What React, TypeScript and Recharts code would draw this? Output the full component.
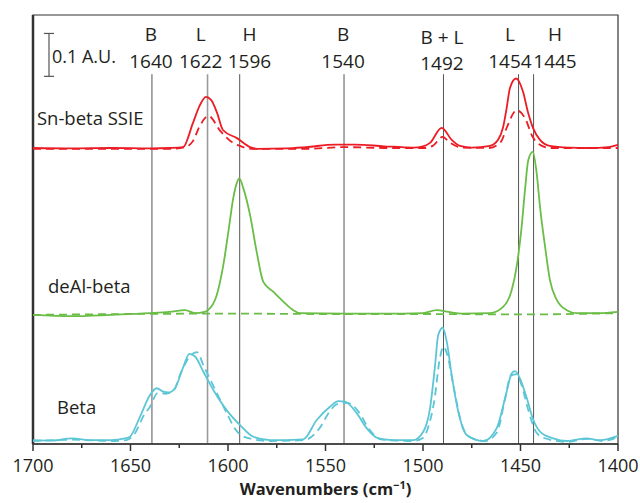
import {
  LineChart,
  Line,
  XAxis,
  YAxis,
  ReferenceLine,
  ReferenceArea,
  ReferenceDot,
  Label,
} from "recharts";

// spectra: [wavenumber, absorbance incl. stacking offset]
const snSolid = [
  [1700, 0.69], [1680, 0.689], [1660, 0.69], [1640, 0.689], [1630, 0.69],
  [1623, 0.692], [1618, 0.748], [1614.4, 0.79], [1611.3, 0.809], [1608.7, 0.802],
  [1605.6, 0.772], [1602.6, 0.732], [1595.4, 0.713], [1588.7, 0.692], [1585, 0.688],
  [1570, 0.689], [1560, 0.692], [1545, 0.698], [1535, 0.698], [1520, 0.694],
  [1505, 0.691], [1500, 0.694], [1496.4, 0.702], [1490.4, 0.737], [1485.3, 0.709],
  [1481, 0.695], [1475, 0.691], [1465.6, 0.695], [1461.5, 0.709], [1459, 0.737],
  [1457.1, 0.783], [1455.4, 0.83], [1452.3, 0.852], [1448.7, 0.821], [1446.2, 0.774],
  [1443.6, 0.737], [1440, 0.709], [1435, 0.695], [1425, 0.691], [1415, 0.69],
  [1405, 0.692], [1400, 0.697],
];
const snDashed = [
  [1700, 0.688], [1660, 0.688], [1630, 0.688], [1622, 0.692], [1618, 0.706],
  [1614.4, 0.742], [1610, 0.765], [1604, 0.73], [1597.4, 0.702], [1594, 0.695],
  [1588, 0.688], [1560, 0.688], [1540, 0.692], [1520, 0.69], [1500, 0.69],
  [1495, 0.695], [1490, 0.716], [1486, 0.702], [1480, 0.691], [1466, 0.69],
  [1460, 0.705], [1457, 0.738], [1452, 0.778], [1447.5, 0.758], [1444, 0.718],
  [1441.4, 0.702], [1435, 0.69], [1400, 0.69],
];
const deAlSolid = [
  [1700, 0.301], [1680, 0.298], [1660, 0.301], [1640, 0.305], [1630, 0.308],
  [1622, 0.312], [1617, 0.305], [1612, 0.308], [1610.3, 0.312], [1605.8, 0.347],
  [1602.4, 0.417], [1599.8, 0.495], [1597.3, 0.573], [1595.5, 0.608], [1594.2, 0.619],
  [1592.2, 0.597], [1588.7, 0.534], [1585.3, 0.448], [1581.9, 0.378], [1576.8, 0.355],
  [1571.6, 0.332], [1566.5, 0.312], [1563.1, 0.305], [1540, 0.304], [1510, 0.304],
  [1500, 0.305], [1493, 0.312], [1487, 0.308], [1480, 0.304], [1465.6, 0.305],
  [1458.8, 0.32], [1454.5, 0.359], [1452, 0.413], [1449.4, 0.507], [1447.7, 0.592],
  [1446, 0.662], [1443.7, 0.681], [1441.7, 0.631], [1440, 0.553], [1437.4, 0.46],
  [1434.9, 0.382], [1431.4, 0.336], [1426.3, 0.312], [1421.2, 0.305], [1410, 0.305],
  [1400, 0.308],
];
const deAlDashed = [
  [1700, 0.301], [1650, 0.303], [1600, 0.304], [1550, 0.303], [1500, 0.303],
  [1450, 0.302], [1400, 0.305],
];
const betaSolid = [
  [1700, 0.009], [1690, 0.008], [1680, 0.013], [1670, 0.009], [1660, 0.009],
  [1652.8, 0.013], [1650.3, 0.017], [1645.1, 0.064], [1640, 0.114], [1636.6, 0.13],
  [1633.2, 0.122], [1630.6, 0.12], [1627.2, 0.13], [1622.9, 0.18], [1619.8, 0.21],
  [1616.9, 0.204], [1612.7, 0.169], [1607.5, 0.126], [1600.7, 0.079], [1593.8, 0.044],
  [1587, 0.017], [1578.5, 0.009], [1561.4, 0.011], [1554.5, 0.056], [1547.7, 0.087],
  [1543.4, 0.1], [1540, 0.099], [1534, 0.072], [1528.9, 0.037], [1522.9, 0.013],
  [1515, 0.009], [1505, 0.009], [1499.8, 0.029], [1496.4, 0.083], [1493.8, 0.184],
  [1492.2, 0.254], [1489.9, 0.271], [1487.8, 0.238], [1485.3, 0.161], [1481.9, 0.075],
  [1477.6, 0.021], [1469.1, 0.007], [1462.2, 0.037], [1457.1, 0.122], [1454.5, 0.165],
  [1452.8, 0.17], [1450.3, 0.153], [1446.8, 0.107], [1443.4, 0.056], [1440, 0.029],
  [1433.2, 0.013], [1426.3, 0.007], [1416.1, 0.013], [1409.2, 0.009], [1400, 0.019],
];
const betaDashed = [
  [1700, 0.007], [1680, 0.01], [1660, 0.007], [1652, 0.009], [1648, 0.023],
  [1643, 0.068], [1640, 0.087], [1636, 0.119], [1632, 0.117], [1628, 0.124],
  [1624, 0.168], [1619, 0.207], [1616, 0.214], [1612, 0.177], [1607, 0.131],
  [1601, 0.075], [1596, 0.033], [1590, 0.014], [1578, 0.007], [1561, 0.009],
  [1553, 0.037], [1548, 0.075], [1544, 0.093], [1539, 0.096], [1533, 0.075],
  [1528, 0.037], [1521, 0.01], [1505, 0.007], [1500, 0.014], [1497, 0.044],
  [1494, 0.107], [1491.5, 0.196], [1489.5, 0.227], [1487.5, 0.207], [1484, 0.126],
  [1480, 0.044], [1476, 0.016], [1468, 0.007], [1462, 0.028], [1458, 0.103],
  [1455, 0.159], [1452, 0.163], [1449.5, 0.138], [1446, 0.079], [1442, 0.028],
  [1438, 0.014], [1426, 0.005], [1416, 0.012], [1408, 0.007], [1400, 0.016],
];

const xTicks = [1700, 1675, 1650, 1625, 1600, 1575, 1550, 1525, 1500, 1475, 1450, 1425, 1400];

// band markers: where the line sits, and where its label sits
const bandLineX = [1639, 1610.5, 1594, 1540.5, 1489.5, 1451, 1443.3];
const bandLabelX = [1639.5, 1614, 1589, 1541, 1490.3, 1455.4, 1432.3];
const bandLetters = ["B", "L", "H", "B", "B + L", "L", "H"];
const bandNumbers = ["1640", "1622", "1596", "1540", "1492", "1454", "1445"];

const sampleNames = ["Sn-beta SSIE", "deAl-beta", "Beta"];
const sampleNameX = [1698, 1692.3, 1687.7];
const sampleNameY = [0.744, 0.352, 0.07];

const toPoints = (rows: number[][]) => rows.map(([x, y]) => ({ x, y }));

const FONT = "'Open Sans', sans-serif";
const INK = "#231f20";
const RED = "#ec1c24";
const GREEN = "#6abd45";
const CYAN = "#5cc6d6";

function AxisTick({ x, y, payload }: any) {
  const major = payload.value % 50 === 0;
  return (
    <g>
      <line x1={x} x2={x} y1={y} y2={y + (major ? 7 : 4)} stroke="#333" strokeWidth={1.5} />
      {major && (
        <text x={x} y={y + 28} textAnchor="middle" fontSize={18} fontFamily={FONT} fill={INK}>
          {payload.value}
        </text>
      )}
    </g>
  );
}

function AxisTitle({ viewBox }: any) {
  const cx = viewBox.x + viewBox.width / 2;
  return (
    <text x={cx} y={viewBox.y + 51} textAnchor="middle" fontSize={16.5} fontWeight={700} fontFamily={FONT} fill={INK}>
      Wavenumbers (cm
      <tspan dy={-6} fontSize={11}>−1</tspan>
      <tspan dy={6}>)</tspan>
    </text>
  );
}

export default function App() {
  const series = [
    { data: snSolid, color: RED, dash: undefined },
    { data: snDashed, color: RED, dash: "8 5" },
    { data: deAlSolid, color: GREEN, dash: undefined },
    { data: deAlDashed, color: GREEN, dash: "8 5" },
    { data: betaSolid, color: CYAN, dash: undefined },
    { data: betaDashed, color: CYAN, dash: "8 5" },
  ];

  return (
    <div style={{ position: "absolute", left: 0, top: 0, width: 640, height: 503, background: "#fff" }}>
      <LineChart width={640} height={503} margin={{ top: 15, right: 22, bottom: 29, left: 33 }}>
        <XAxis
          dataKey="x"
          type="number"
          domain={[1400, 1700]}
          reversed
          ticks={xTicks}
          interval={0}
          height={30}
          tickSize={0}
          tickMargin={0}
          tick={<AxisTick />}
          axisLine={{ stroke: "#333", strokeWidth: 1.5 }}
        >
          <Label content={<AxisTitle />} />
        </XAxis>
        <YAxis type="number" domain={[0, 1]} hide />

        <ReferenceArea x1={1700} x2={1400} y1={0} y2={1} fill="none" stroke="#333" strokeWidth={1.2} />
        <ReferenceLine x={1700} stroke="#333" strokeWidth={2.5} />

        {bandLineX.map((bx, i) => (
          <ReferenceLine
            key={"band" + i}
            segment={[{ x: bx, y: 0 }, { x: bx, y: 0.862 }]}
            stroke={i === 1 ? "#9a9a9a" : "#555"}
            strokeWidth={i === 1 ? 1.6 : 1}
          />
        ))}

        {bandLabelX.map((lx, i) => (
          <ReferenceDot
            key={"lbl" + i}
            x={lx}
            y={0.876}
            r={0}
            shape={(p: any) => (
              <g>
                <text x={p.cx} y={p.cy - 27 + (i === 4 ? 3 : 0)} textAnchor="middle" fontSize={19} fontFamily={FONT} fill={INK}>
                  {bandLetters[i]}
                </text>
                <text x={p.cx} y={p.cy + (i === 4 ? 2 : 0)} textAnchor="middle" fontSize={19} fontFamily={FONT} fill={INK}>
                  {bandNumbers[i]}
                </text>
              </g>
            )}
          />
        ))}

        {/* 0.1 A.U. scale bar */}
        <ReferenceLine segment={[{ x: 1691.8, y: 0.857 }, { x: 1691.8, y: 0.957 }]} stroke="#555" strokeWidth={1.2} />
        <ReferenceLine segment={[{ x: 1694.4, y: 0.857 }, { x: 1689.2, y: 0.857 }]} stroke="#555" strokeWidth={1.2} />
        <ReferenceLine segment={[{ x: 1694.4, y: 0.957 }, { x: 1689.2, y: 0.957 }]} stroke="#555" strokeWidth={1.2} />
        <ReferenceDot
          x={1690.3}
          y={0.901}
          r={0}
          shape={(p: any) => (
            <text x={p.cx} y={p.cy + 6} fontSize={18} fontFamily={FONT} fill={INK}>
              0.1 A.U.
            </text>
          )}
        />

        {sampleNames.map((name, i) => (
          <ReferenceDot
            key={name}
            x={sampleNameX[i]}
            y={sampleNameY[i]}
            r={0}
            shape={(p: any) => (
              <text x={p.cx} y={p.cy} fontSize={18.5} fontFamily={FONT} fill={INK}>
                {name}
              </text>
            )}
          />
        ))}

        {series.map((s, i) => (
          <Line
            key={"s" + i}
            data={toPoints(s.data)}
            dataKey="y"
            type="monotone"
            stroke={s.color}
            strokeWidth={1.8}
            strokeDasharray={s.dash}
            dot={false}
            activeDot={false}
            isAnimationActive={false}
          />
        ))}
      </LineChart>
    </div>
  );
}
